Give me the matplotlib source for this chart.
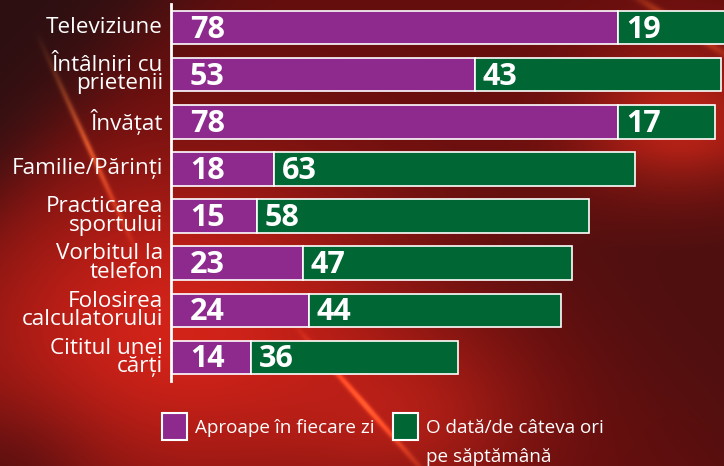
import numpy as np
import matplotlib
matplotlib.use("Agg")
import matplotlib.pyplot as plt
from matplotlib.patches import Rectangle

# data
categories = ["Televiziune", "Întâlniri cu\nprietenii", "Învățat", "Familie/Părinți",
              "Practicarea\nsportului", "Vorbitul la\ntelefon", "Folosirea\ncalculatorului",
              "Cititul unei\ncărți"]
daily = [78, 53, 78, 18, 15, 23, 24, 14]
weekly = [19, 43, 17, 63, 58, 47, 44, 36]
legend_labels = ["Aproape în fiecare zi", "O dată/de câteva ori\npe săptămână"]

PURPLE = "#8e2a8e"
GREEN = "#006633"
W, H = 724, 466


def make_background(w, h):
    """Red gradient with dark corners and a few light streaks."""
    yy, xx = np.mgrid[0:h, 0:w].astype(float)
    base = np.array([100, 14, 14], float)
    img = np.ones((h, w, 3)) * base

    def blob(cx, cy, sx, sy, col, amt):
        g = np.exp(-(((xx - cx) / sx) ** 2 + ((yy - cy) / sy) ** 2))
        return g[..., None] * (np.array(col, float) - base) * amt

    img += blob(180, 330, 240, 170, [210, 35, 25], 1.0)
    img += blob(680, 120, 100, 80, [205, 40, 25], 0.8)
    img += blob(420, 420, 120, 80, [190, 35, 25], 0.5)

    # dark top-left corner
    d = (xx + yy * 0.95 - 165) / 35
    m = 1 / (1 + np.exp(d))
    img = img * (1 - m[..., None]) + np.array([45, 16, 18])[None, None] * m[..., None]

    # dark lower-right
    d2 = ((xx - 560) * 0.7 - (yy - 300) * 0.7) / 40
    m2 = 1 / (1 + np.exp(-d2)) * np.clip((yy - 150) / 100, 0, 1)
    img = img * (1 - 0.8 * m2[..., None]) + np.array([72, 16, 16])[None, None] * 0.8 * m2[..., None]

    # dark bottom-left corner
    m3 = np.exp(-((xx / 90) ** 2 + ((yy - 480) / 70) ** 2))
    img = img * (1 - 0.6 * m3[..., None]) + np.array([70, 14, 16])[None, None] * 0.6 * m3[..., None]

    # light streaks
    def streak(x1, y1, x2, y2, width, col, amt):
        dx, dy = x2 - x1, y2 - y1
        n = np.hypot(dx, dy)
        dist = np.abs((xx - x1) * dy - (yy - y1) * dx) / n
        t = ((xx - x1) * dx + (yy - y1) * dy) / n ** 2
        along = np.clip(1 - np.abs(t - 0.5) * 2, 0, 1)
        g = np.exp(-(dist / width) ** 2) * along
        return g[..., None] * (np.array(col, float)) * amt

    img += streak(35, 30, 140, 260, 3, [130, 80, 30], 0.8)
    img += streak(290, 320, 440, 490, 3, [130, 80, 30], 0.8)
    img += streak(610, -20, 750, 70, 4, [120, 70, 20], 0.7)
    return np.clip(img, 0, 255) / 255


fig = plt.figure(figsize=(W / 100, H / 100), dpi=100)
bg = fig.add_axes([0, 0, 1, 1])
bg.imshow(make_background(W, H), aspect="auto", extent=[0, W, H, 0])
bg.axis("off")

ax = fig.add_axes([171 / W, (H - 381) / H, (W - 171) / W, 377 / H])
ax.patch.set_alpha(0)

y = np.arange(len(categories))
ax.barh(y, daily, height=0.71, color=PURPLE, edgecolor="white", linewidth=1.2)
ax.barh(y, weekly, left=daily, height=0.71, color=GREEN, edgecolor="white", linewidth=1.2)

for i, (d, w) in enumerate(zip(daily, weekly)):
    ax.annotate(str(d), xy=(0, i), xytext=(19, -2), textcoords="offset pixels",
                va="center", ha="left", color="white", fontsize=22,
                fontweight="bold", family="Open Sans")
    ax.annotate(str(w), xy=(d, i), xytext=(8, -2), textcoords="offset pixels",
                va="center", ha="left", color="white", fontsize=22,
                fontweight="bold", family="Open Sans")

for i, lab in enumerate(categories):
    ax.annotate(lab, xy=(0, i), xytext=(-8, 0), textcoords="offset pixels",
                va="center", ha="right", color="white", fontsize=16.2,
                family="Open Sans", linespacing=0.85, annotation_clip=False)

ax.set_xlim(0, (W - 171) / 5.73)
ax.set_ylim(len(categories) - 0.5, -0.5)
ax.set_xticks([])
ax.set_yticks([])
for s in ["top", "right", "bottom"]:
    ax.spines[s].set_visible(False)
ax.spines["left"].set_color("white")
ax.spines["left"].set_linewidth(2)

# legend drawn by hand
for (x0, col, lab) in [(162, PURPLE, legend_labels[0]), (393, GREEN, legend_labels[1])]:
    fig.patches.append(Rectangle((x0 / W, (H - 440) / H), 25 / W, 27 / H,
                                 transform=fig.transFigure, facecolor=col,
                                 edgecolor="white", linewidth=1.5))
    for k, line in enumerate(lab.split("\n")):
        fig.text((x0 + 33) / W, (H - 433 - 29 * k) / H, line, color="white",
                 fontsize=13.6, family="Open Sans", va="baseline", ha="left")

fig.savefig("out.png", dpi=100)
